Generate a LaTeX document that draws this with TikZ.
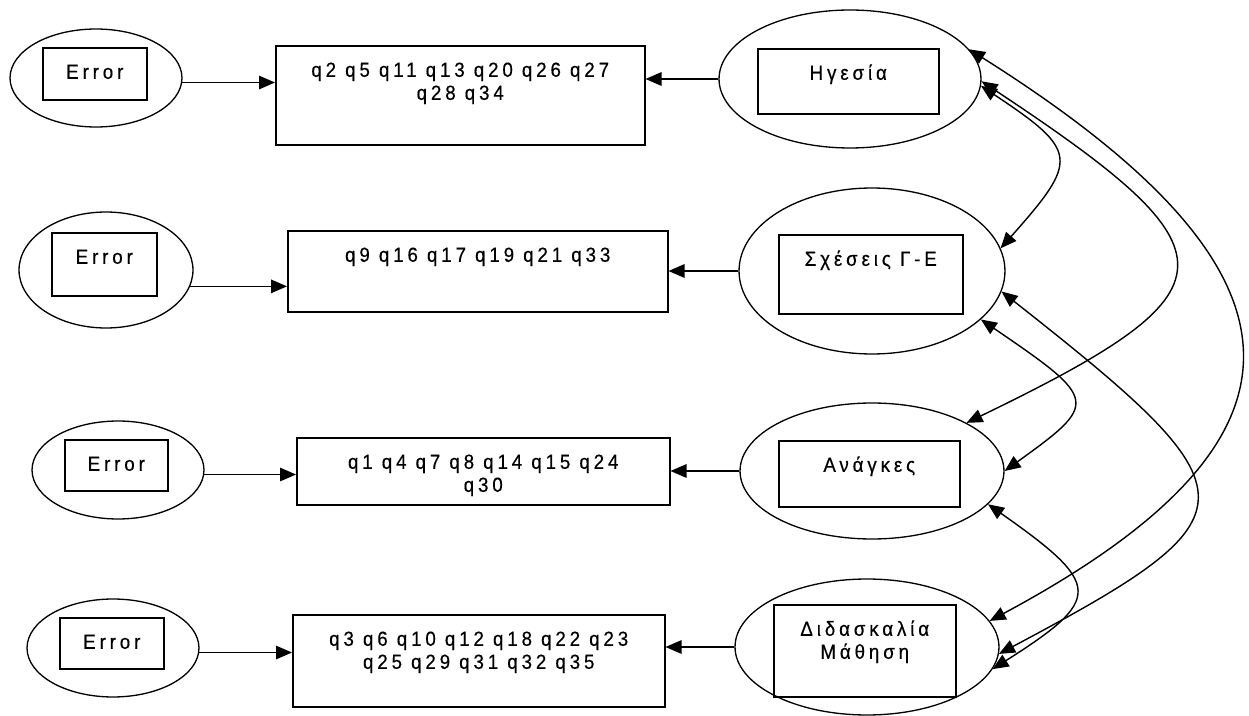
\documentclass[tikz,border=0pt]{standalone}
\usepackage{fontspec}
\setmainfont{Liberation Sans}[LetterSpace=19, FakeStretch=0.92, FakeBold=0.4]
\usetikzlibrary{shapes.geometric,arrows.meta}

\begin{document}
\begin{tikzpicture}[x=0.02cm, y=-0.02cm, font=\fontsize{11.6}{13.1}\selectfont,
  oval/.style 2 args={draw, ellipse, line width=0.75pt, inner sep=0pt, minimum width=#1, minimum height=#2},
  tbox/.style 2 args={draw, rectangle, line width=0.9pt, inner sep=0pt, anchor=north west,
    execute at begin node={\begin{minipage}[t][#2][t]{#1}\centering\rule{0pt}{0.62cm}},
    execute at end node={\end{minipage}}},
  arr/.style={line width=0.8pt, -{Triangle[length=0.32cm, width=0.27cm]}},
  cor/.style={line width=0.8pt, {Triangle[length=0.32cm, width=0.27cm]}-{Triangle[length=0.32cm, width=0.27cm]}}]
  \useasboundingbox (0,0) rectangle (1249,716);

  \node[oval={3.44cm}{1.96cm}] (err1) at (96,78) {};
  \node[tbox={2.08cm}{1.04cm}] (err1t) at (42,47) {Error};
  \node[oval={3.48cm}{2.32cm}] (err2) at (106,270) {};
  \node[tbox={2.10cm}{1.26cm}] (err2t) at (51,232) {Error};
  \node[oval={3.44cm}{1.96cm}] (err3) at (118,470) {};
  \node[tbox={2.06cm}{1.02cm}] (err3t) at (64,439) {Error};
  \node[oval={3.44cm}{1.96cm}] (err4) at (113,648) {};
  \node[tbox={2.08cm}{1.02cm}] (err4t) at (59,617) {Error};

  \node[tbox={7.38cm}{1.98cm}] (q1) at (275,45) {q2 q5 q11 q13 q20 q26 q27\\q28 q34};
  \node[tbox={7.60cm}{1.62cm}] (q2) at (287,230) {q9 q16 q17 q19 q21 q33};
  \node[tbox={7.46cm}{1.34cm}] (q3) at (296,437) {q1 q4 q7 q8 q14 q15 q24\\q30};
  \node[tbox={7.44cm}{1.84cm}] (q4) at (292,614) {q3 q6 q10 q12 q18 q22 q23\\q25 q29 q31 q32 q35};

  \node[oval={5.24cm}{2.76cm}] (lead) at (850,79) {};
  \node[tbox={3.62cm}{1.30cm}] (leadt) at (757,48) {Ηγεσία};
  \node[oval={5.32cm}{3.32cm}] (rel) at (872,271) {};
  \node[tbox={3.68cm}{1.58cm}] (relt) at (778,234) {Σχέσεις Γ-Ε};
  \node[oval={5.28cm}{2.72cm}] (need) at (872,471) {};
  \node[tbox={3.62cm}{1.32cm}] (needt) at (778,440) {Ανάγκες};
  \node[oval={5.28cm}{2.72cm}] (teach) at (867,647) {};
  \node[tbox={3.64cm}{1.84cm}] (teacht) at (773,604) {Διδασκαλία\\Μάθηση};

  \draw[arr] (err1.-3) -- (err1.-3 -| q1.west);
  \draw[arr] (err2.-11) -- (err2.-11 -| q2.west);
  \draw[arr] (err3.-3) -- (err3.-3 -| q3.west);
  \draw[arr] (err4.-3) -- (err4.-3 -| q4.west);
  \draw[arr] (lead.west) -- (lead.west -| q1.east);
  \draw[arr] (rel.west) -- (rel.west -| q2.east);
  \draw[arr] (need.west) -- (need.west -| q3.east);
  \draw[arr] (teach.west) -- (teach.west -| q4.east);

  \draw[cor] (lead.-3) .. controls (1079,151) and (1079,160) .. (rel.10);
  \draw[cor] (lead.-1) .. controls (1241,253) and (1241,290) .. (need.27);
  \draw[cor] (lead.14) .. controls (1327,275) and (1327,440) .. (teach.12);
  \draw[cor] (rel.-24) .. controls (1099,400) and (1099,403) .. (need.0);
  \draw[cor] (rel.-9) .. controls (1260,495) and (1260,515) .. (teach.-3);
  \draw[cor] (need.-16) .. controls (1103,585) and (1103,599) .. (teach.-10);
\end{tikzpicture}
\end{document}
